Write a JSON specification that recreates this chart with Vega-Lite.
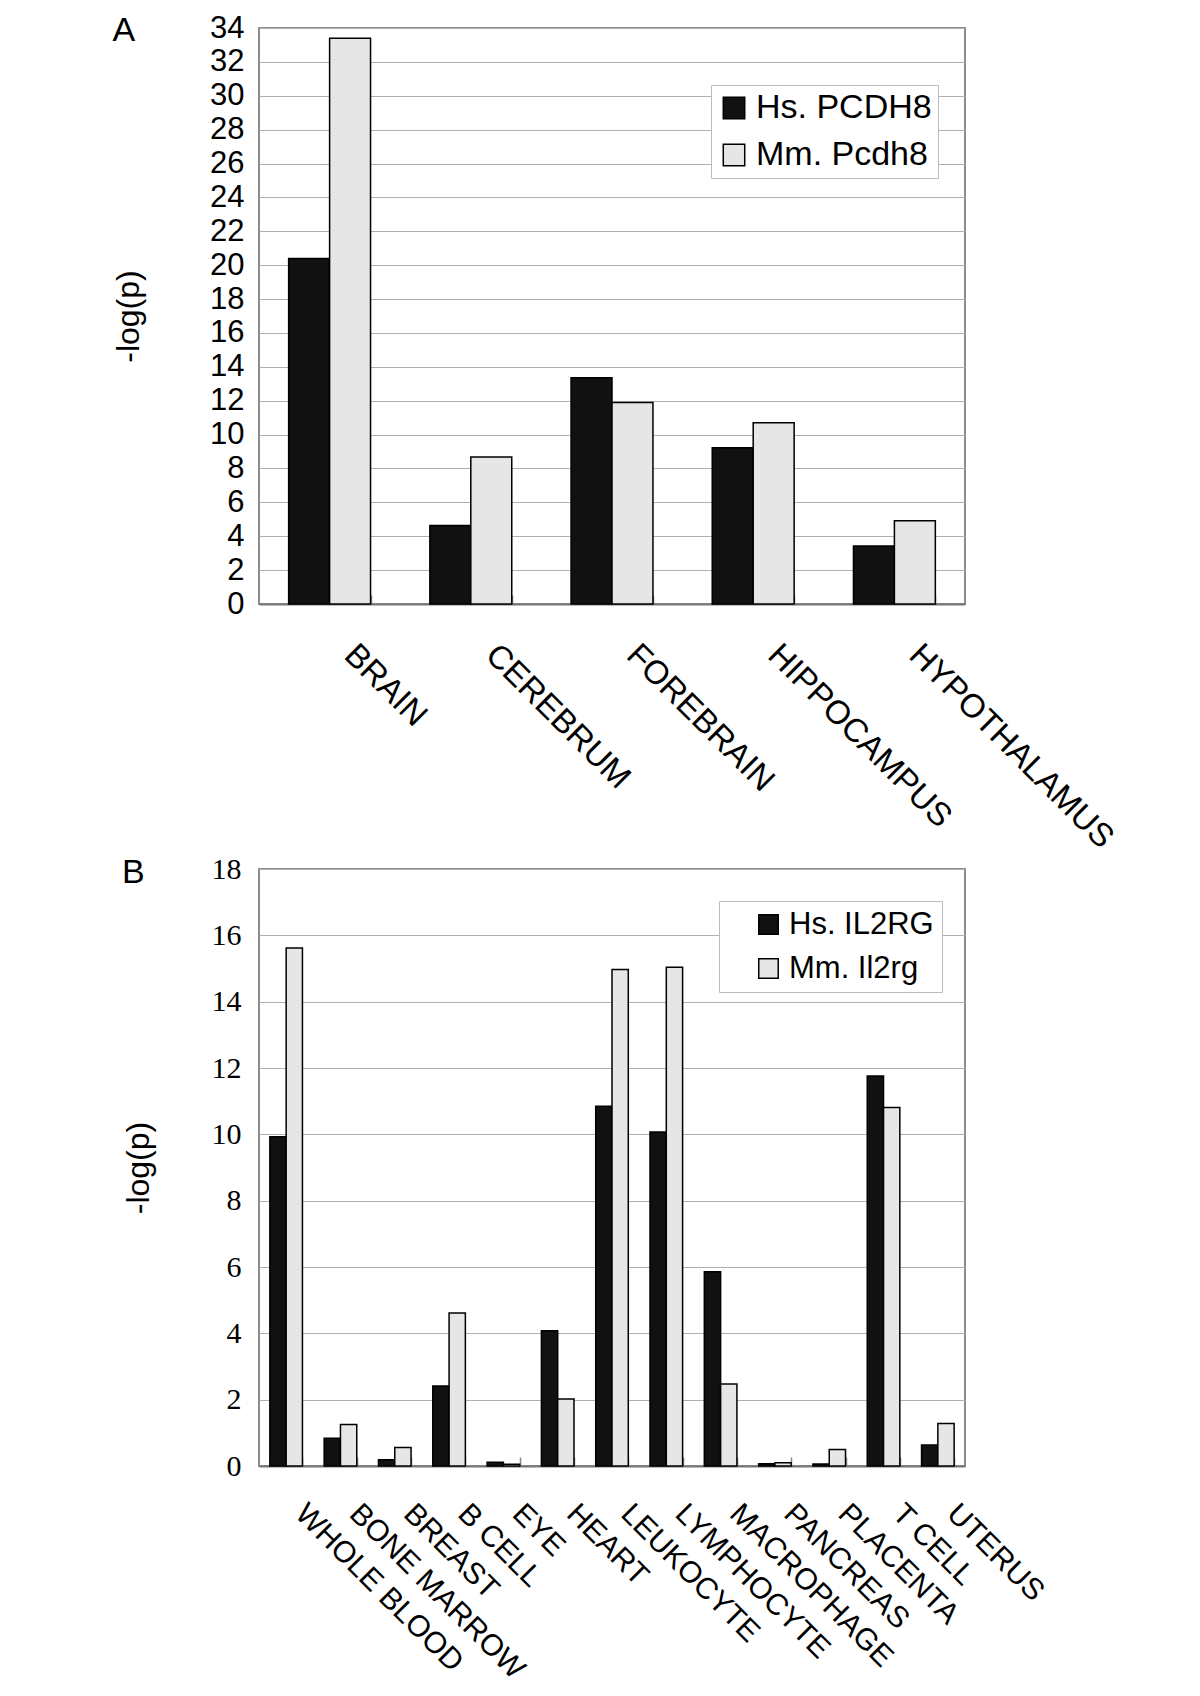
{
  "$schema": "https://vega.github.io/schema/vega-lite/v6.json",
  "background": "white",
  "padding": {"left": 111, "top": 11, "right": 5, "bottom": 5},
  "spacing": -3,
  "config": {
    "font": "Liberation Sans",
    "view": {"stroke": "#8c8c8c", "strokeWidth": 2},
    "axis": {"labelColor": "black", "titleColor": "black", "titleFontWeight": "normal"},
    "legend": {"labelColor": "black"}
  },
  "resolve": {"scale": {"color": "independent", "x": "independent", "y": "independent", "xOffset": "independent"}, "legend": {"color": "independent"}},
  "vconcat": [
    {
      "width": 706,
      "height": 576,
      "title": {"text": "A", "anchor": "start", "frame": "bounds", "fontSize": 34, "fontWeight": "normal", "font": "Liberation Sans", "color": "black", "dy": 40},
      "data": {"values": [
        {"tissue": "BRAIN", "species": "Hs. PCDH8", "value": 20.4},
        {"tissue": "BRAIN", "species": "Mm. Pcdh8", "value": 33.4},
        {"tissue": "CEREBRUM", "species": "Hs. PCDH8", "value": 4.64},
        {"tissue": "CEREBRUM", "species": "Mm. Pcdh8", "value": 8.67},
        {"tissue": "FOREBRAIN", "species": "Hs. PCDH8", "value": 13.35},
        {"tissue": "FOREBRAIN", "species": "Mm. Pcdh8", "value": 11.9},
        {"tissue": "HIPPOCAMPUS", "species": "Hs. PCDH8", "value": 9.23},
        {"tissue": "HIPPOCAMPUS", "species": "Mm. Pcdh8", "value": 10.7},
        {"tissue": "HYPOTHALAMUS", "species": "Hs. PCDH8", "value": 3.43},
        {"tissue": "HYPOTHALAMUS", "species": "Mm. Pcdh8", "value": 4.92}
      ]},
      "mark": {"type": "bar", "stroke": "black", "strokeWidth": 1.5},
      "encoding": {
        "x": {
          "field": "tissue", "type": "nominal", "sort": null,
          "scale": {"paddingInner": 0.42, "paddingOuter": 0.21},
          "axis": {"title": null, "labelAngle": 45, "labelAlign": "left", "labelBaseline": "top", "labelFontSize": 33, "labelPadding": 43, "labelOffset": 31, "labelLimit": 0, "tickBand": "extent", "tickSize": -9, "tickWidth": 1.5, "tickColor": "#888888", "domainColor": "#777777", "domainWidth": 2}
        },
        "xOffset": {"field": "species", "type": "nominal", "sort": null},
        "y": {
          "field": "value", "type": "quantitative",
          "scale": {"domain": [0, 34], "nice": false},
          "axis": {"values": [0, 2, 4, 6, 8, 10, 12, 14, 16, 18, 20, 22, 24, 26, 28, 30, 32, 34], "title": "-log(p)", "titleFontSize": 32, "labelFontSize": 31, "ticks": false, "domain": false, "gridColor": "#b0b0b0", "labelPadding": 15, "titlePadding": 64}
        },
        "color": {
          "field": "species", "type": "nominal", "sort": null,
          "scale": {"range": ["#111111", "#e6e6e6"]},
          "legend": {"title": null, "orient": "none", "legendX": 452, "legendY": 57, "labelFontSize": 34, "labelLimit": 0, "symbolType": "square", "symbolSize": 460, "symbolStrokeColor": "black", "symbolStrokeWidth": 1.5, "strokeColor": "#bbbbbb", "fillColor": "white", "padding": 6, "rowPadding": 13, "labelOffset": 5}
        }
      }
    },
    {
      "width": 706,
      "height": 597,
      "title": {"text": "B", "anchor": "start", "frame": "bounds", "fontSize": 34, "fontWeight": "normal", "font": "Liberation Sans", "color": "black", "dy": 40},
      "data": {"values": [
        {"tissue": "WHOLE BLOOD", "species": "Hs. IL2RG", "value": 9.93},
        {"tissue": "WHOLE BLOOD", "species": "Mm. Il2rg", "value": 15.62},
        {"tissue": "BONE MARROW", "species": "Hs. IL2RG", "value": 0.84},
        {"tissue": "BONE MARROW", "species": "Mm. Il2rg", "value": 1.25},
        {"tissue": "BREAST", "species": "Hs. IL2RG", "value": 0.19},
        {"tissue": "BREAST", "species": "Mm. Il2rg", "value": 0.56},
        {"tissue": "B CELL", "species": "Hs. IL2RG", "value": 2.41},
        {"tissue": "B CELL", "species": "Mm. Il2rg", "value": 4.61},
        {"tissue": "EYE", "species": "Hs. IL2RG", "value": 0.11},
        {"tissue": "EYE", "species": "Mm. Il2rg", "value": 0.05},
        {"tissue": "HEART", "species": "Hs. IL2RG", "value": 4.08},
        {"tissue": "HEART", "species": "Mm. Il2rg", "value": 2.02},
        {"tissue": "LEUKOCYTE", "species": "Hs. IL2RG", "value": 10.85},
        {"tissue": "LEUKOCYTE", "species": "Mm. Il2rg", "value": 14.97},
        {"tissue": "LYMPHOCYTE", "species": "Hs. IL2RG", "value": 10.07},
        {"tissue": "LYMPHOCYTE", "species": "Mm. Il2rg", "value": 15.04},
        {"tissue": "MACROPHAGE", "species": "Hs. IL2RG", "value": 5.86},
        {"tissue": "MACROPHAGE", "species": "Mm. Il2rg", "value": 2.47},
        {"tissue": "PANCREAS", "species": "Hs. IL2RG", "value": 0.07},
        {"tissue": "PANCREAS", "species": "Mm. Il2rg", "value": 0.1},
        {"tissue": "PLACENTA", "species": "Hs. IL2RG", "value": 0.06},
        {"tissue": "PLACENTA", "species": "Mm. Il2rg", "value": 0.5},
        {"tissue": "T CELL", "species": "Hs. IL2RG", "value": 11.76},
        {"tissue": "T CELL", "species": "Mm. Il2rg", "value": 10.81},
        {"tissue": "UTERUS", "species": "Hs. IL2RG", "value": 0.63},
        {"tissue": "UTERUS", "species": "Mm. Il2rg", "value": 1.28}
      ]},
      "mark": {"type": "bar", "stroke": "black", "strokeWidth": 1.5},
      "encoding": {
        "x": {
          "field": "tissue", "type": "nominal", "sort": null,
          "scale": {"paddingInner": 0.4, "paddingOuter": 0.2},
          "axis": {"title": null, "labelAngle": 45, "labelAlign": "left", "labelBaseline": "top", "labelFontSize": 30, "labelPadding": 41, "labelOffset": 24, "labelLimit": 0, "tickBand": "extent", "tickSize": -9, "tickWidth": 1.5, "tickColor": "#888888", "domainColor": "#777777", "domainWidth": 2}
        },
        "xOffset": {"field": "species", "type": "nominal", "sort": null},
        "y": {
          "field": "value", "type": "quantitative",
          "scale": {"domain": [0, 18], "nice": false},
          "axis": {"values": [0, 2, 4, 6, 8, 10, 12, 14, 16, 18], "title": "-log(p)", "titleFontSize": 32, "titleFont": "Liberation Sans", "labelFont": "Liberation Serif", "labelFontSize": 30, "ticks": false, "domain": false, "gridColor": "#b0b0b0", "labelPadding": 18, "titlePadding": 56}
        },
        "color": {
          "field": "species", "type": "nominal", "sort": null,
          "scale": {"range": ["#111111", "#e6e6e6"]},
          "legend": {"title": null, "orient": "none", "legendX": 460, "legendY": 32, "labelFontSize": 31, "labelLimit": 0, "symbolType": "square", "symbolSize": 380, "symbolStrokeColor": "black", "symbolStrokeWidth": 1.5, "symbolOffset": 26, "strokeColor": "#bbbbbb", "fillColor": "white", "padding": 8, "rowPadding": 12, "labelOffset": 5}
        }
      }
    }
  ]
}
